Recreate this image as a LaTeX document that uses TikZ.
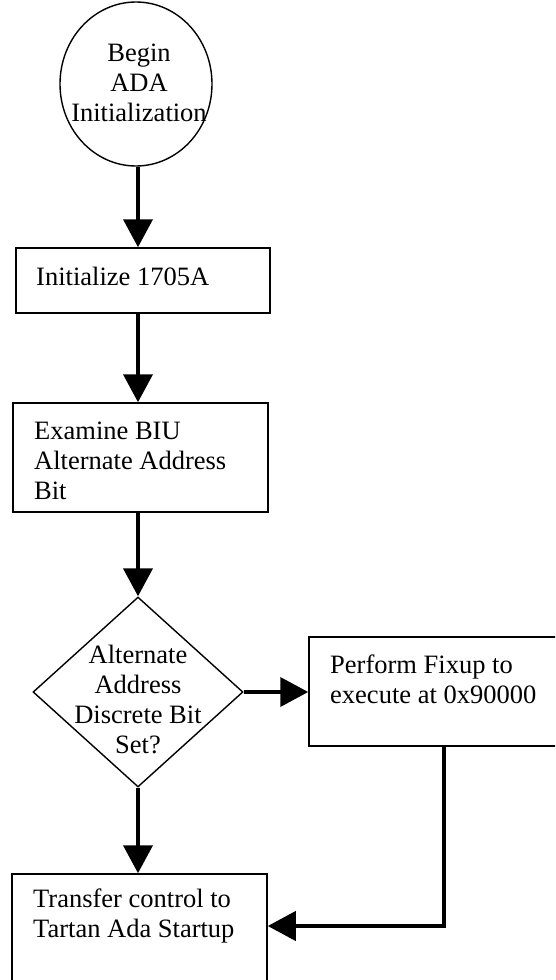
\documentclass[tikz,border=0pt]{standalone}
\usepackage{fontspec}
\setmainfont{Liberation Serif}
\usetikzlibrary{arrows.meta,shapes.geometric}
\begin{document}
\begin{tikzpicture}[x=1pt,y=-1pt,
  flowbox/.style={draw, rectangle, line width=1.5pt, inner sep=0pt},
  flowline/.style={line width=4pt, -{Triangle[width=29pt,length=28pt]}},
  lbl/.style={inner sep=0pt, font=\fontsize{26.5}{30}\selectfont}]
\useasboundingbox (0,0) rectangle (555,980);
\clip (0,0) rectangle (555,980);

% shapes
\node[draw, ellipse, line width=1.4pt, minimum width=152pt, minimum height=164pt, inner sep=0pt] (start) at (136,84) {};
\node[flowbox, minimum width=254pt, minimum height=65pt] (init) at (143,280.5) {};
\node[flowbox, minimum width=255pt, minimum height=109pt] (exam) at (140.5,457.5) {};
\node[draw, diamond, line width=1.4pt, aspect=1.105, minimum width=210pt, minimum height=190pt, inner sep=0pt] (alt) at (138,692) {};
\node[flowbox, minimum width=311pt, minimum height=109pt] (fix) at (464.5,691.5) {};
\node[flowbox, minimum width=255pt, minimum height=146pt] (done) at (139.5,947) {};

% texts
\node[lbl, anchor=base] (tstart) at (139,61) {\parbox[t]{200pt}{\centering Begin\\ADA\\Initialization}};
\node[lbl, anchor=base west] (tinit) at (36,285) {Initialize 1705A};
\node[lbl, anchor=base west] (texam) at (34,439) {\parbox[t]{240pt}{Examine BIU\\Alternate Address\\Bit}};
\node[lbl, anchor=base] (talt) at (138,663) {\parbox[t]{200pt}{\centering Alternate\\Address\\Discrete Bit\\Set?}};
\node[lbl, anchor=base west] (tfix) at (330,673) {\parbox[t]{240pt}{Perform Fixup to\\execute at 0x90000}};
\node[lbl, anchor=base west] (tdone) at (33,907) {\parbox[t]{240pt}{Transfer control to\\Tartan Ada Startup}};

% connectors
\coordinate (spine) at (138,0);
\coordinate (bend) at (444,926);
\draw[flowline] (start.south -| spine) -- (init.north -| spine);
\draw[flowline] (init.south -| spine) -- (exam.north -| spine);
\draw[flowline] (exam.south -| spine) -- (alt.north);
\draw[flowline] (alt.east) -- (alt.east -| fix.west);
\draw[flowline] (alt.south) -- (done.north -| alt.south);
\draw[flowline] (fix.south -| bend) -- (bend) -- (bend -| done.east);
\end{tikzpicture}
\end{document}
